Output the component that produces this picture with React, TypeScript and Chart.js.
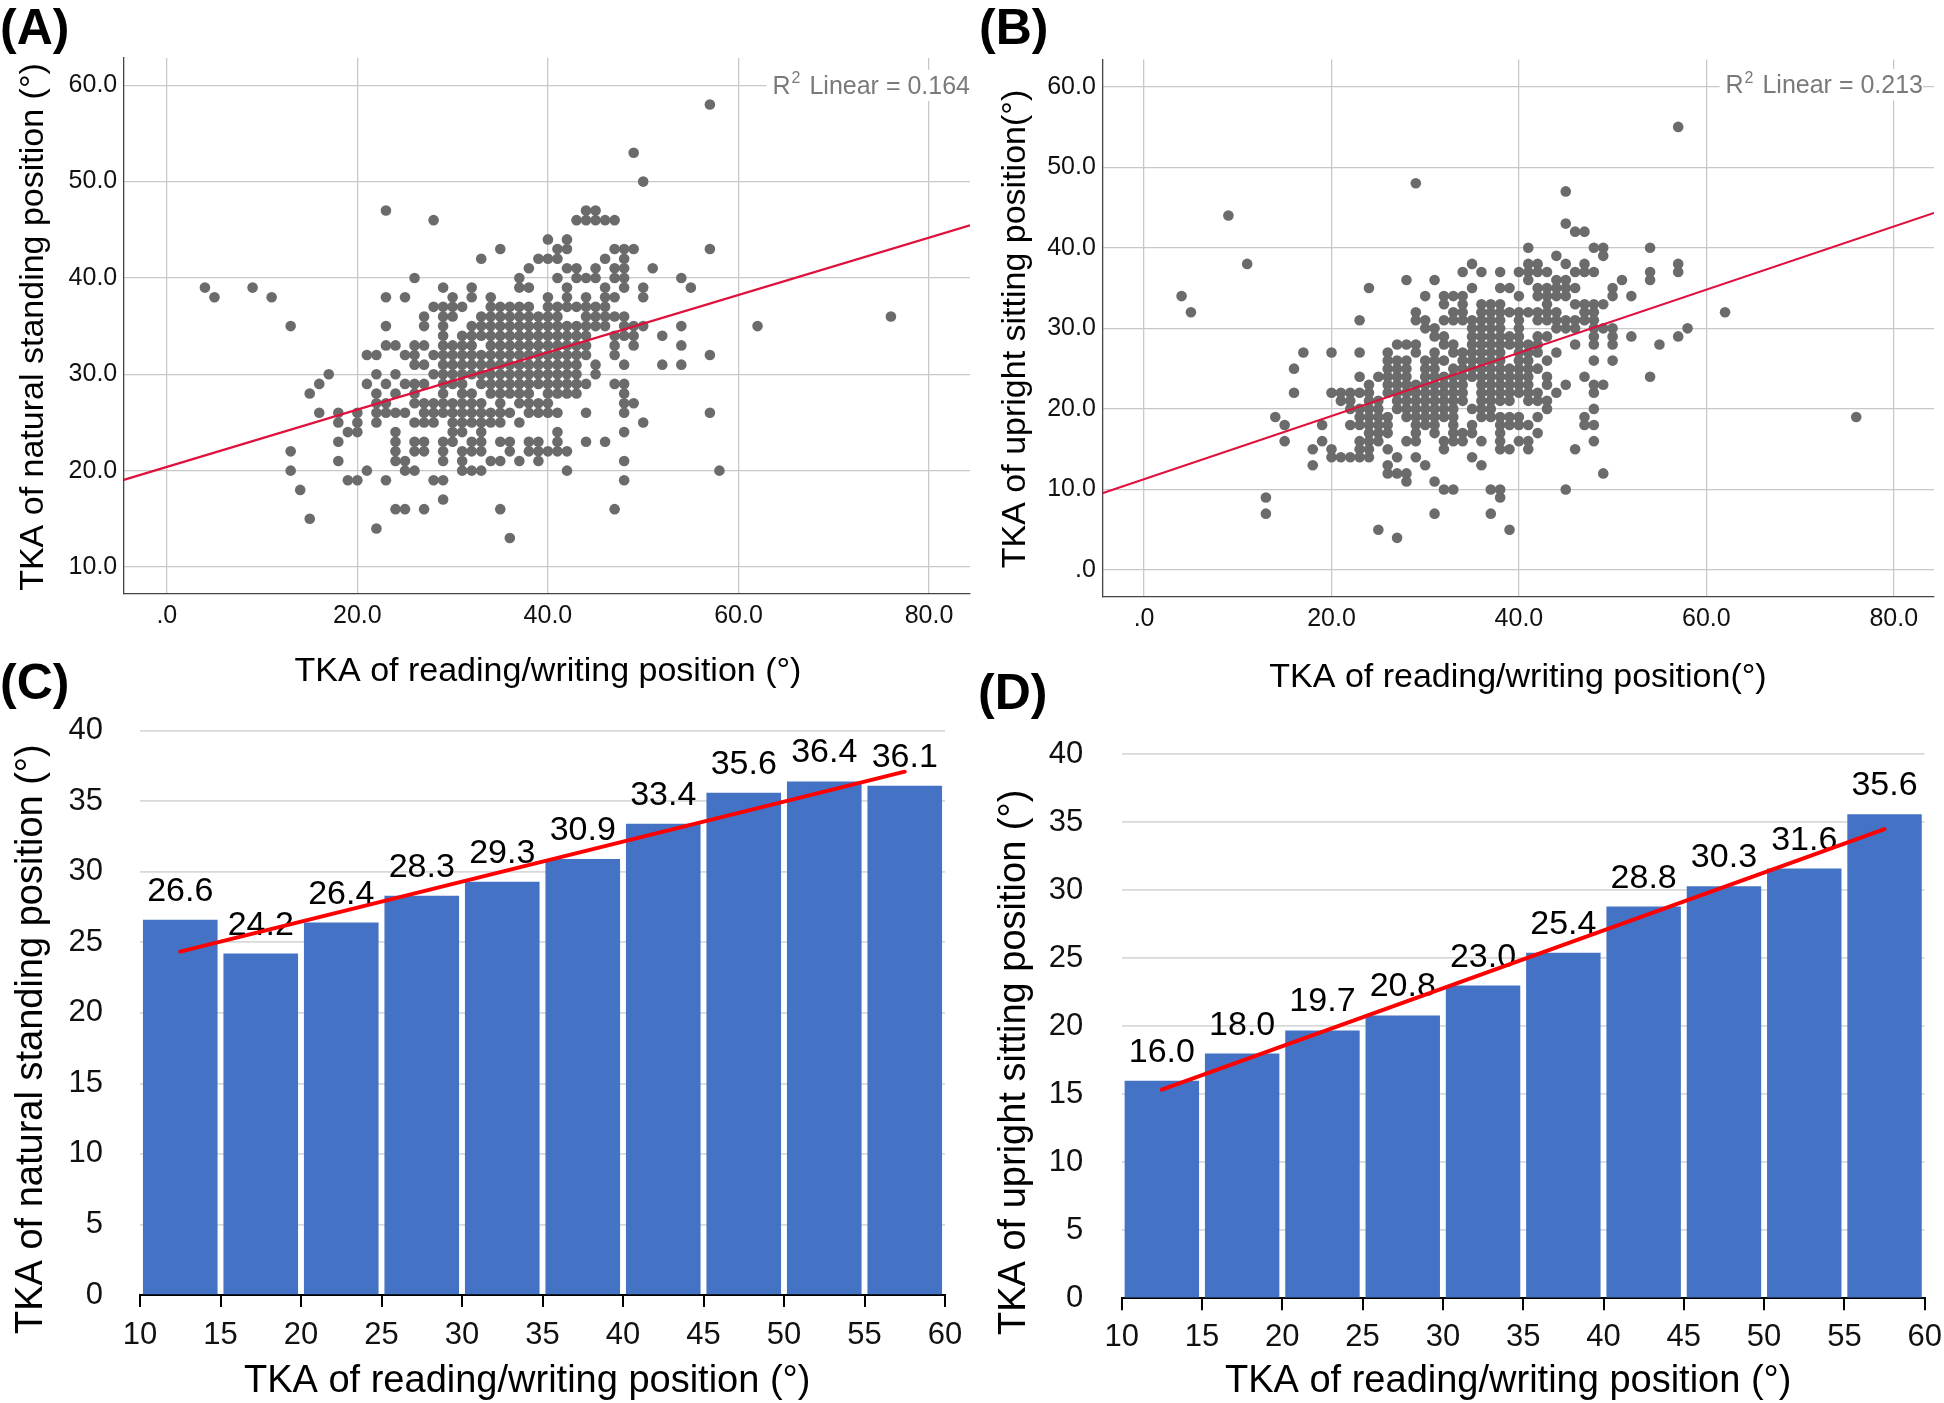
import React, { useEffect, useRef } from 'react';
import { Chart, registerables } from 'chart.js';

Chart.register(...registerables);

const FONT = '"Liberation Sans", Arial, Helvetica, sans-serif';

// ---------------- DATA ----------------
// Panel A: TKA natural standing (y) vs reading/writing (x); rows of [y, x values]
const standingRows: Array<[number, number[]]> = [
  [58, [57]],
  [53, [49]],
  [50, [50]],
  [47, [23, 44, 45]],
  [46, [28, 43, 44, 45, 46, 47]],
  [44, [40, 42]],
  [43, [35, 41, 42, 47, 48, 49, 57]],
  [42, [33, 39, 40, 41, 46, 48]],
  [41, [38, 42, 43, 45, 47, 48, 51]],
  [40, [26, 37, 41, 43, 44, 45, 47, 48, 54]],
  [39, [4, 9, 29, 32, 37, 38, 42, 46, 48, 50, 55]],
  [38, [5, 11, 23, 25, 30, 32, 34, 40, 42, 44, 46, 47, 50]],
  [37, [28, 29, 30, 31, 34, 35, 36, 37, 38, 40, 41, 42, 43, 44, 45, 46]],
  [36, [27, 29, 30, 33, 34, 35, 36, 37, 38, 39, 40, 41, 44, 45, 46, 47, 48, 76]],
  [35, [13, 23, 27, 29, 32, 33, 34, 35, 36, 37, 38, 39, 40, 41, 42, 43, 44, 45, 46, 48, 49, 50, 54, 62]],
  [34, [29, 31, 32, 33, 34, 35, 36, 37, 38, 39, 40, 41, 42, 43, 44, 47, 48, 49, 52]],
  [33, [23, 24, 26, 27, 29, 30, 31, 32, 34, 35, 36, 37, 38, 39, 40, 41, 42, 43, 44, 47, 49, 54]],
  [32, [21, 22, 25, 26, 28, 29, 30, 31, 32, 33, 34, 35, 36, 37, 38, 39, 40, 41, 42, 43, 44, 47, 57]],
  [31, [26, 27, 29, 30, 31, 32, 33, 34, 35, 36, 37, 38, 39, 40, 41, 42, 43, 45, 48, 52, 54]],
  [30, [17, 22, 24, 28, 29, 30, 31, 32, 33, 34, 35, 36, 37, 38, 39, 40, 41, 42, 43, 45]],
  [29, [16, 21, 23, 25, 26, 27, 29, 30, 31, 33, 34, 35, 36, 37, 38, 39, 40, 41, 42, 43, 44, 47, 48]],
  [28, [15, 22, 24, 26, 29, 31, 32, 34, 35, 36, 37, 38, 40, 41, 42, 43, 48]],
  [27, [22, 23, 26, 27, 28, 29, 30, 31, 32, 33, 35, 37, 38, 39, 40, 48, 49]],
  [26, [16, 18, 20, 22, 23, 24, 25, 27, 28, 29, 30, 31, 32, 33, 34, 35, 36, 38, 39, 40, 41, 44, 48, 57]],
  [25, [18, 20, 22, 26, 27, 28, 30, 31, 32, 33, 34, 35, 37, 50]],
  [24, [19, 20, 24, 30, 31, 33, 41, 48]],
  [23, [18, 24, 26, 27, 29, 30, 32, 33, 35, 36, 38, 39, 41, 44, 46]],
  [22, [13, 24, 26, 27, 29, 31, 32, 33, 36, 38, 39, 40, 41, 42]],
  [21, [18, 24, 25, 29, 31, 34, 35, 37, 39, 48]],
  [20, [13, 21, 25, 26, 31, 32, 33, 42, 58]],
  [19, [19, 20, 23, 28, 29, 48]],
  [18, [14]],
  [17, [29]],
  [16, [24, 25, 27, 35, 47]],
  [15, [15]],
  [14, [22]],
  [13, [36]],
];

// Panel B: TKA upright sitting (y) vs reading/writing (x); rows of [y, x values]
const sittingRows: Array<[number, number[]]> = [
  [55, [57]],
  [48, [29]],
  [47, [45]],
  [44, [9]],
  [43, [45]],
  [42, [46, 47]],
  [40, [41, 48, 49, 54]],
  [39, [44, 49]],
  [38, [11, 35, 41, 42, 45, 47, 57]],
  [37, [34, 36, 38, 40, 41, 42, 43, 46, 47, 48, 54, 57]],
  [36, [28, 31, 41, 44, 45, 51, 54]],
  [35, [24, 35, 38, 39, 42, 43, 44, 45, 46, 50]],
  [34, [4, 30, 32, 33, 34, 40, 42, 43, 44, 45, 50, 52]],
  [33, [32, 34, 36, 37, 38, 43, 46, 47, 48, 49]],
  [32, [5, 29, 33, 34, 36, 37, 38, 39, 40, 41, 42, 43, 44, 47, 48, 62]],
  [31, [23, 29, 30, 32, 33, 34, 35, 36, 37, 38, 40, 42, 43, 44, 45, 46, 47, 48]],
  [30, [30, 31, 35, 36, 37, 38, 40, 44, 45, 46, 48, 49, 50, 58]],
  [29, [31, 32, 35, 36, 37, 38, 39, 40, 42, 43, 48, 50, 52, 57]],
  [28, [27, 28, 29, 32, 33, 35, 36, 37, 38, 39, 40, 41, 42, 46, 48, 50, 55]],
  [27, [17, 20, 23, 26, 29, 31, 33, 34, 35, 36, 37, 38, 40, 41, 42, 44]],
  [26, [26, 27, 28, 30, 31, 32, 34, 35, 36, 37, 38, 40, 41, 43, 48, 50]],
  [25, [16, 26, 27, 28, 30, 31, 33, 34, 35, 36, 37, 38, 39, 40, 41, 42]],
  [24, [23, 25, 26, 27, 28, 30, 31, 32, 33, 34, 35, 36, 37, 38, 39, 40, 41, 43, 47, 54]],
  [23, [24, 26, 27, 28, 29, 30, 31, 32, 33, 34, 36, 37, 38, 39, 40, 41, 43, 45, 48, 49]],
  [22, [16, 20, 21, 22, 23, 24, 26, 27, 28, 29, 30, 31, 32, 33, 34, 36, 37, 38, 39, 40, 41, 42, 44, 48]],
  [21, [21, 22, 24, 25, 27, 28, 29, 30, 31, 32, 33, 34, 36, 37, 38, 39, 41, 42, 43]],
  [20, [22, 23, 24, 25, 27, 28, 29, 30, 31, 32, 33, 35, 36, 37, 43, 48]],
  [19, [14, 23, 24, 25, 26, 28, 29, 30, 31, 32, 33, 36, 37, 38, 39, 40, 42, 47, 76]],
  [18, [15, 19, 22, 23, 24, 25, 26, 29, 30, 31, 33, 35, 38, 39, 40, 41, 47, 48]],
  [17, [24, 25, 26, 29, 31, 33, 34, 35, 38, 42]],
  [16, [15, 19, 23, 24, 25, 28, 29, 32, 33, 34, 36, 38, 40, 41, 48]],
  [15, [18, 20, 23, 24, 26, 32, 38, 39, 41, 46]],
  [14, [20, 21, 22, 23, 24, 27, 29, 35]],
  [13, [18, 26, 30, 36]],
  [12, [26, 27, 28, 49]],
  [11, [28, 31]],
  [10, [32, 33, 37, 38, 45]],
  [9, [13, 38]],
  [7, [13, 31, 37]],
  [5, [25, 39]],
  [4, [27]],
];

const scatterXTicks = [0, 20, 40, 60, 80];
const standingYTicks = [10, 20, 30, 40, 50, 60];
const sittingYTicks = [0, 10, 20, 30, 40, 50, 60];

// Linear fits as drawn in the reference (intercept, slope, R²)
const fitStanding = { intercept: 20.38, slope: 0.2975, r2: '0.164' };
const fitSitting = { intercept: 11.28, slope: 0.392, r2: '0.213' };

// Panels C & D: mean TKA per 5° bin of reading/writing TKA
const binEdges = [10, 15, 20, 25, 30, 35, 40, 45, 50, 55, 60];
const standingMeans = [26.6, 24.2, 26.4, 28.3, 29.3, 30.9, 33.4, 35.6, 36.4, 36.1];
const sittingMeans = [16.0, 18.0, 19.7, 20.8, 23.0, 25.4, 28.8, 30.3, 31.6, 35.6];
const barYTicks = [0, 5, 10, 15, 20, 25, 30, 35, 40];

// ---------------- HELPERS ----------------
const rowsToPoints = (rows: Array<[number, number[]]>) =>
  rows.flatMap(([y, xs]) => xs.map((x) => ({ x, y })));

const binPoints = (means: number[]) =>
  means.map((m, i) => ({ x: (binEdges[i] + binEdges[i + 1]) / 2, y: m }));

// least-squares trend line through the bar means (as Excel's linear trendline)
const trendOf = (pts: { x: number; y: number }[]) => {
  const n = pts.length;
  const mx = pts.reduce((s, p) => s + p.x, 0) / n;
  const my = pts.reduce((s, p) => s + p.y, 0) / n;
  let sxy = 0;
  let sxx = 0;
  pts.forEach((p) => {
    sxy += (p.x - mx) * (p.y - my);
    sxx += (p.x - mx) * (p.x - mx);
  });
  const b = sxy / sxx;
  const a = my - b * mx;
  const x0 = pts[0].x;
  const x1 = pts[n - 1].x;
  return [
    { x: x0, y: a + b * x0 },
    { x: x1, y: a + b * x1 },
  ];
};

const spssFmt = (v: number) => (v === 0 ? '.0' : v.toFixed(1));

type TextItem = {
  text: string;
  x: number;
  y: number;
  size: number;
  align?: CanvasTextAlign;
  rotate?: boolean;
  color?: string;
};

const textPlugin = {
  id: 'panelText',
  afterDraw(chart: any, _args: any, opts: any) {
    const ctx: CanvasRenderingContext2D = chart.ctx;
    const [ox, oy] = opts.origin || [0, 0];
    (opts.items || []).forEach((it: TextItem) => {
      ctx.save();
      ctx.font = `${it.size}px ${FONT}`;
      ctx.fillStyle = it.color || '#000';
      ctx.textAlign = it.align || 'center';
      ctx.textBaseline = 'alphabetic';
      ctx.translate(it.x - ox, it.y - oy);
      if (it.rotate) ctx.rotate(-Math.PI / 2);
      ctx.fillText(it.text, 0, 0);
      ctx.restore();
    });
    if (opts.r2) {
      const { value, right, baseline, size } = opts.r2;
      const rest = ` Linear = ${value}`;
      ctx.save();
      ctx.textBaseline = 'alphabetic';
      ctx.textAlign = 'left';
      ctx.font = `${size}px ${FONT}`;
      const wR = ctx.measureText('R').width;
      const wRest = ctx.measureText(rest).width;
      ctx.font = `${Math.round(size * 0.62)}px ${FONT}`;
      const w2 = ctx.measureText('2').width + 3;
      const total = wR + w2 + wRest;
      const x0 = right - ox - total;
      const y0 = baseline - oy;
      ctx.fillStyle = '#ffffff';
      ctx.fillRect(x0 - 6, y0 - size * 0.95, total + 6, size * 1.25);
      ctx.fillStyle = '#7a7a7a';
      ctx.font = `${size}px ${FONT}`;
      ctx.fillText('R', x0, y0);
      ctx.font = `${Math.round(size * 0.62)}px ${FONT}`;
      ctx.fillText('2', x0 + wR + 1, y0 - size * 0.42);
      ctx.font = `${size}px ${FONT}`;
      ctx.fillText(rest, x0 + wR + w2, y0);
      ctx.restore();
    }
  },
};

const barLabelPlugin = {
  id: 'barLabels',
  afterDatasetDraw(chart: any, args: any, opts: any) {
    if (args.index !== 0) return;
    const ctx: CanvasRenderingContext2D = chart.ctx;
    const values: number[] = opts.values || [];
    ctx.save();
    ctx.font = `${opts.size}px ${FONT}`;
    ctx.fillStyle = '#000';
    ctx.textAlign = 'center';
    ctx.textBaseline = 'alphabetic';
    args.meta.data.forEach((el: any, i: number) => {
      ctx.fillText(values[i].toFixed(1), el.x, el.y - opts.offset);
    });
    ctx.restore();
  },
};

type Box = { left: number; top: number; width: number; height: number };
type Area = { L: number; T: number; R: number; B: number };

function ChartCanvas({ box, make }: { box: Box; make: () => any }) {
  const ref = useRef<HTMLCanvasElement | null>(null);
  useEffect(() => {
    if (!ref.current) return;
    const chart = new Chart(ref.current, make());
    return () => chart.destroy();
  }, []);
  return (
    <canvas
      ref={ref}
      width={box.width}
      height={box.height}
      style={{
        position: 'absolute',
        left: box.left,
        top: box.top,
        width: box.width,
        height: box.height,
      }}
    />
  );
}

function scatterConfig(
  box: Box,
  area: Area,
  rows: Array<[number, number[]]>,
  fit: { intercept: number; slope: number; r2: string },
  xRange: [number, number],
  yRange: [number, number],
  yTicks: number[],
  texts: TextItem[],
  r2: { right: number; baseline: number }
) {
  const linePts = xRange.map((x) => ({ x, y: fit.intercept + fit.slope * x }));
  return {
    type: 'scatter',
    data: {
      datasets: [
        {
          type: 'scatter',
          data: rowsToPoints(rows),
          backgroundColor: '#6b6b6b',
          borderWidth: 0,
          pointRadius: 5.3,
          order: 1,
        },
        {
          type: 'line',
          data: linePts,
          borderColor: '#e0103c',
          borderWidth: 2.2,
          pointRadius: 0,
          fill: false,
          order: 0,
        },
      ],
    },
    options: {
      responsive: false,
      animation: false,
      devicePixelRatio: 1,
      events: [],
      layout: {
        autoPadding: false,
        padding: { left: 0, top: area.T - box.top, right: box.left + box.width - area.R, bottom: 0 },
      },
      plugins: {
        legend: { display: false },
        tooltip: { enabled: false },
        panelText: { origin: [box.left, box.top], items: texts, r2: { value: fit.r2, size: 25, ...r2 } },
      },
      scales: {
        x: {
          type: 'linear',
          min: xRange[0],
          max: xRange[1],
          afterBuildTicks: (s: any) => {
            s.ticks = scatterXTicks.map((v) => ({ value: v }));
          },
          afterFit: (s: any) => {
            s.height = box.top + box.height - area.B;
          },
          ticks: { callback: (v: any) => spssFmt(Number(v)), font: { family: FONT, size: 25 }, color: '#111', padding: 7 },
          grid: { color: '#c8c8c8', lineWidth: 1.3, drawTicks: false },
          border: { display: true, color: '#444', width: 1.3 },
        },
        y: {
          type: 'linear',
          min: yRange[0],
          max: yRange[1],
          afterBuildTicks: (s: any) => {
            s.ticks = yTicks.map((v) => ({ value: v }));
          },
          afterFit: (s: any) => {
            s.width = area.L - box.left;
          },
          ticks: { callback: (v: any) => spssFmt(Number(v)), font: { family: FONT, size: 25 }, color: '#111', padding: 6.5 },
          grid: { color: '#c8c8c8', lineWidth: 1.3, drawTicks: false },
          border: { display: true, color: '#444', width: 1.3 },
        },
      },
    },
    plugins: [textPlugin],
  };
}

function barConfig(box: Box, area: Area, means: number[], texts: TextItem[], yGap: number, xLabelCenter: number) {
  const pts = binPoints(means);
  const tickLen = 12;
  return {
    type: 'bar',
    data: {
      datasets: [
        {
          type: 'bar',
          data: pts,
          backgroundColor: '#4472c4',
          borderWidth: 0,
          barPercentage: 0.927,
          categoryPercentage: 1,
          order: 1,
        },
        {
          type: 'line',
          data: trendOf(pts),
          borderColor: '#ff0000',
          borderWidth: 4,
          borderCapStyle: 'round',
          pointRadius: 0,
          fill: false,
          order: 0,
        },
      ],
    },
    options: {
      responsive: false,
      animation: false,
      devicePixelRatio: 1,
      events: [],
      layout: {
        autoPadding: false,
        padding: { left: 0, top: area.T - box.top, right: box.left + box.width - area.R, bottom: 0 },
      },
      plugins: {
        legend: { display: false },
        tooltip: { enabled: false },
        panelText: { origin: [box.left, box.top], items: texts },
        barLabels: { values: means, size: 34, offset: 19 },
      },
      scales: {
        x: {
          type: 'linear',
          offset: false,
          min: binEdges[0],
          max: binEdges[binEdges.length - 1],
          afterBuildTicks: (s: any) => {
            s.ticks = binEdges.map((v) => ({ value: v }));
          },
          afterFit: (s: any) => {
            s.height = box.top + box.height - area.B;
          },
          ticks: {
            font: { family: FONT, size: 31, lineHeight: `${2 * (xLabelCenter - tickLen)}px` },
            color: '#111',
            padding: 0,
          },
          grid: {
            offset: false,
            drawOnChartArea: false,
            drawTicks: true,
            tickLength: tickLen,
            color: '#000',
            lineWidth: 2,
          },
          border: { display: true, color: '#000', width: 2 },
        },
        y: {
          type: 'linear',
          min: 0,
          max: 40,
          afterBuildTicks: (s: any) => {
            s.ticks = barYTicks.map((v) => ({ value: v }));
          },
          afterFit: (s: any) => {
            s.width = area.L - box.left;
          },
          ticks: { font: { family: FONT, size: 31 }, color: '#111', padding: 0 },
          grid: {
            color: '#d9d9d9',
            lineWidth: 1.7,
            drawTicks: true,
            tickLength: yGap,
            tickColor: 'rgba(0,0,0,0)',
          },
          border: { display: false },
        },
      },
    },
    plugins: [barLabelPlugin, textPlugin],
  };
}

// ---------------- LAYOUT ----------------
const boxA: Box = { left: 0, top: 0, width: 975, height: 700 };
const boxB: Box = { left: 975, top: 0, width: 969, height: 700 };
const boxC: Box = { left: 0, top: 700, width: 975, height: 703 };
const boxD: Box = { left: 975, top: 700, width: 969, height: 703 };

const areaA: Area = { L: 123.75, T: 58, R: 970, B: 593.75 };
const areaB: Area = { L: 1102.3, T: 59.4, R: 1934, B: 596.9 };
const areaC: Area = { L: 140, T: 730.7, R: 945, B: 1295 };
const areaD: Area = { L: 1121.7, T: 754.3, R: 1924.7, B: 1298.3 };

const panelLabel = (text: string, left: number, top: number) => (
  <div
    key={text}
    style={{
      position: 'absolute',
      left,
      top,
      font: `bold 50px ${FONT}`,
      lineHeight: '50px',
      color: '#000',
      whiteSpace: 'nowrap',
      zIndex: 2,
    }}
  >
    {text}
  </div>
);

export default function App() {
  useEffect(() => {
    document.body.style.margin = '0';
    document.body.style.overflow = 'hidden';
  }, []);

  const makeA = () =>
    scatterConfig(
      boxA,
      areaA,
      standingRows,
      fitStanding,
      [-4.52, 84.3],
      [7.22, 62.83],
      standingYTicks,
      [
        { text: 'TKA of reading/writing position (°)', x: 548, y: 681, size: 34 },
        { text: 'TKA of natural standing position (°)', x: 43, y: 327, size: 34, rotate: true },
      ],
      { right: 970, baseline: 93.5 }
    );

  const makeB = () =>
    scatterConfig(
      boxB,
      areaB,
      sittingRows,
      fitSitting,
      [-4.46, 84.3],
      [-3.33, 63.38],
      sittingYTicks,
      [
        { text: 'TKA of reading/writing position(°)', x: 1518, y: 687, size: 34 },
        { text: 'TKA of upright sitting position(°)', x: 1025, y: 329, size: 34, rotate: true },
      ],
      { right: 1923, baseline: 93 }
    );

  const makeC = () =>
    barConfig(
      boxC,
      areaC,
      standingMeans,
      [
        { text: 'TKA of reading/writing position (°)', x: 244, y: 1392, size: 38, align: 'left' },
        { text: 'TKA of natural standing position (°)', x: 42, y: 1334, size: 38, align: 'left', rotate: true },
      ],
      37,
      40
    );

  const makeD = () =>
    barConfig(
      boxD,
      areaD,
      sittingMeans,
      [
        { text: 'TKA of reading/writing position (°)', x: 1225, y: 1392, size: 38, align: 'left' },
        { text: 'TKA of upright sitting position (°)', x: 1025, y: 1335, size: 38, align: 'left', rotate: true },
      ],
      38.4,
      39.5
    );

  return (
    <div
      style={{
        position: 'absolute',
        left: 0,
        top: 0,
        width: 1944,
        height: 1403,
        background: '#ffffff',
        overflow: 'hidden',
      }}
    >
      <ChartCanvas box={boxA} make={makeA} />
      <ChartCanvas box={boxB} make={makeB} />
      <ChartCanvas box={boxC} make={makeC} />
      <ChartCanvas box={boxD} make={makeD} />
      {panelLabel('(A)', 0, 1.7)}
      {panelLabel('(B)', 979, 1.7)}
      {panelLabel('(C)', 0, 657.4)}
      {panelLabel('(D)', 978, 667.4)}
    </div>
  );
}
